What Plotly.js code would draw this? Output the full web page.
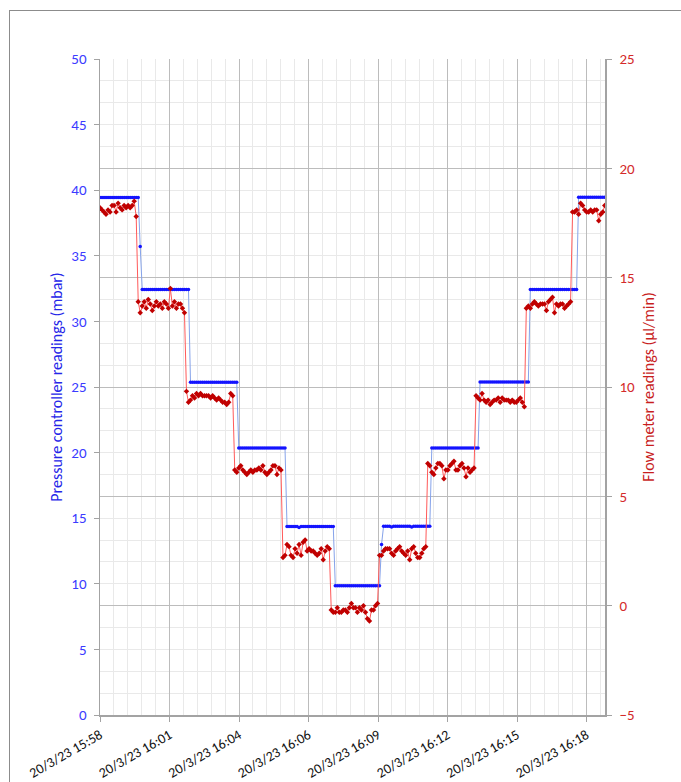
<!DOCTYPE html>
<html><head><meta charset="utf-8">
<script src="https://cdn.plot.ly/plotly-3.0.1.min.js"></script>
<style>
html,body{margin:0;padding:0;background:#fff;overflow:hidden;width:681px;height:782px}
#chart{position:absolute;left:0;top:0;width:681px;height:782px}
#frame{position:absolute;left:9px;top:10px;width:720px;height:820px;border:1px solid #8c8c8c;pointer-events:none;z-index:5}
</style></head>
<body><div id="chart"></div><div id="frame"></div>
<script>
// ---- data ----
var sampleStart = '2023-03-20 15:57:46';   // first sample time
var samplePeriodSec = 5;                     // seconds between samples

// Pressure controller readings (mbar), left axis
var pressure = [
 39.45,39.45,39.45,39.45,39.45,39.45,39.45,39.45,39.45,39.45,
 39.45,39.45,39.45,39.45,39.45,39.45,39.45,39.45,39.45,39.45,
 35.7,
 32.44,32.44,32.44,32.44,32.44,32.44,32.44,32.44,32.44,32.44,
 32.44,32.44,32.44,32.44,32.44,32.44,32.44,32.44,32.44,32.44,
 32.44,32.44,32.44,32.44,
 25.37,25.37,25.37,25.37,25.37,25.37,25.37,25.37,25.37,25.37,
 25.37,25.37,25.37,25.37,25.37,25.37,25.37,25.37,25.37,25.37,
 25.37,25.37,25.37,25.37,
 20.36,20.36,20.36,20.36,20.36,20.36,20.36,20.36,20.36,20.36,
 20.36,20.36,20.36,20.36,20.36,20.36,20.36,20.36,20.36,20.36,
 20.36,20.36,20.36,20.36,
 14.36,14.36,14.36,14.36,14.36,14.36,14.30,14.36,14.36,14.36,
 14.36,14.36,14.36,14.36,14.36,14.36,14.36,14.36,14.36,14.36,
 14.36,14.36,14.36,14.36,
 9.86,9.86,9.86,9.86,9.86,9.86,9.86,9.86,9.86,9.86,
 9.86,9.86,9.86,9.86,9.86,9.86,9.86,9.86,9.86,9.86,
 9.86,9.86,9.86,
 13.0,
 14.38,14.38,14.38,14.38,14.32,14.38,14.38,14.38,14.38,14.38,
 14.38,14.38,14.38,14.38,14.32,14.38,14.38,14.38,14.38,14.38,
 14.38,14.38,14.38,14.38,
 20.36,20.36,20.36,20.36,20.36,20.36,20.36,20.36,20.36,20.36,
 20.36,20.36,20.36,20.36,20.36,20.36,20.36,20.36,20.36,20.36,
 20.36,20.36,20.36,20.36,
 25.38,25.38,25.38,25.38,25.38,25.38,25.38,25.38,25.38,25.38,
 25.38,25.38,25.38,25.38,25.38,25.38,25.38,25.38,25.38,25.38,
 25.38,25.38,25.38,25.38,25.38,
 32.44,32.44,32.44,32.44,32.44,32.44,32.44,32.44,32.44,32.44,
 32.44,32.44,32.44,32.44,32.44,32.44,32.44,32.44,32.44,32.44,
 32.44,32.44,32.44,32.44,
 39.46,39.46,39.46,39.46,39.46,39.46,39.46,39.46,39.46,39.46,
 39.46,39.46,39.46,39.46
];

// Flow meter readings (µl/min), right axis
var flow = [
 18.2,18.1,18.0,17.9,18.1,18.0,18.3,18.3,18.0,18.4,18.2,18.1,18.3,18.2,18.3,18.2,18.3,18.5,17.8,
 13.9,13.4,13.7,13.9,13.6,14.0,13.8,13.5,13.7,13.9,13.7,13.8,13.6,13.9,13.8,13.6,14.5,13.7,13.9,13.6,13.8,13.8,13.6,13.4,
 9.8,9.3,9.4,9.6,9.5,9.7,9.6,9.7,9.6,9.6,9.6,9.6,9.5,9.6,9.5,9.4,9.5,9.4,9.3,9.3,9.2,9.3,9.7,9.6,
 6.2,6.1,6.3,6.4,6.2,6.1,6.0,6.1,6.2,6.1,6.2,6.2,6.3,6.2,6.4,6.1,6.0,6.1,6.2,6.4,6.4,6.0,6.3,6.2,
 2.2,2.3,2.8,2.7,2.3,2.2,2.6,2.4,2.8,2.3,2.9,3.0,2.5,2.6,2.5,2.5,2.4,2.3,2.4,2.6,2.1,2.5,2.7,2.6,
 -0.2,-0.3,-0.3,-0.1,-0.3,-0.3,-0.2,-0.2,-0.3,-0.1,0.1,-0.1,-0.1,-0.3,-0.1,-0.2,0.0,-0.3,-0.6,-0.7,-0.2,-0.2,0.0,0.1,
 2.3,2.3,2.5,2.6,2.6,2.6,2.4,2.3,2.5,2.6,2.7,2.5,2.4,2.3,2.5,2.1,2.6,2.7,2.4,2.2,2.2,2.4,2.6,2.7,
 6.5,6.4,6.1,6.0,6.3,6.5,6.5,6.4,5.8,6.2,6.2,6.4,6.5,6.6,6.2,6.2,6.4,6.5,6.3,5.9,6.3,6.1,6.2,6.3,
 9.6,9.5,9.4,9.7,9.4,9.3,9.4,9.2,9.3,9.4,9.4,9.5,9.3,9.5,9.4,9.4,9.4,9.3,9.4,9.3,9.3,9.4,9.5,9.3,9.1,
 13.6,13.7,13.6,13.8,13.9,13.8,13.7,13.8,13.8,13.8,13.5,13.9,14.0,14.1,13.4,13.8,13.7,13.8,13.8,13.6,13.7,13.8,13.9,
 18.0,18.0,18.1,17.9,18.4,18.3,18.1,18.0,18.0,18.1,18.0,18.1,18.1,17.6,17.9,18.0,18.3
];

var xRange = ['2023-03-20 15:57:46', '2023-03-20 16:18:41.6'];
var tickTimes = ['2023-03-20 15:57:46','2023-03-20 16:00:38.8','2023-03-20 16:03:31.6','2023-03-20 16:06:24.4',
                 '2023-03-20 16:09:17.2','2023-03-20 16:12:10','2023-03-20 16:15:02.8','2023-03-20 16:17:55.6'];
var tickLabels = ['20/3/23 15:58','20/3/23 16:01','20/3/23 16:04','20/3/23 16:06',
                  '20/3/23 16:09','20/3/23 16:12','20/3/23 16:15','20/3/23 16:18'];

// ---- sample timestamps ----
function pad(n){return (n<10?'0':'')+n;}
function stamp(base, offsetSec){
  var parts = base.split(' ');
  var hms = parts[1].split(':');
  var s = (+hms[0])*3600 + (+hms[1])*60 + (+hms[2]) + offsetSec;
  var h = Math.floor(s/3600), m = Math.floor((s%3600)/60), sec = s - h*3600 - m*60;
  var secStr = (sec<10?'0':'') + (Math.round(sec*1000)/1000);
  return parts[0]+' '+pad(h)+':'+pad(m)+':'+secStr;
}
function times(n){var out=[];for(var i=0;i<n;i++){out.push(stamp(sampleStart,i*samplePeriodSec));}return out;}

var FONT = 'Carlito, Lato, "Liberation Sans", sans-serif';
var AX = '#a3a3a3', GRID = '#bcbcbc', MINOR = '#e9e9e9';

var traces = [
  {x: times(pressure.length), y: pressure, type:'scatter', mode:'lines+markers', yaxis:'y',
   line:{color:'#86a3ea', width:1}, marker:{symbol:'circle', size:3.5, color:'#1414ff', line:{width:0}},
   hoverinfo:'x+y'},
  {x: times(flow.length), y: flow, type:'scatter', mode:'lines+markers', yaxis:'y2',
   line:{color:'#ff5a5a', width:1}, marker:{symbol:'diamond', size:4.2, color:'#c00000', line:{width:0}},
   hoverinfo:'x+y'}
];

var layout = {
  width:681, height:782,
  margin:{l:100, r:76, t:59, b:67, pad:0},
  paper_bgcolor:'rgba(0,0,0,0)', plot_bgcolor:'#ffffff',
  showlegend:false,
  font:{family:FONT, size:12, color:'#000'},
  xaxis:{
    type:'date', range:xRange, tickmode:'array', tickvals:tickTimes, ticktext:tickLabels, tickangle:-30,
    showgrid:true, gridcolor:GRID, gridwidth:1,
    minor:{tick0:sampleStart, dtick:34560, showgrid:true, gridcolor:MINOR, gridwidth:1, ticks:''},
    showline:true, linecolor:AX, linewidth:1.5, ticks:'outside', ticklen:5, tickcolor:AX, tickwidth:1,
    tickfont:{family:FONT, size:14, color:'#111'}, zeroline:false, automargin:false
  },
  yaxis:{
    range:[0,50], dtick:5, tick0:0, showgrid:false, zeroline:false,
    showline:true, linecolor:AX, linewidth:1.5, ticks:'outside', ticklen:5, tickcolor:AX, tickwidth:1,
    tickfont:{family:FONT, size:15, color:'#3b3bff'}, ticklabelstandoff:4,
    title:{text:'Pressure controller readings (mbar)', standoff:4, font:{family:FONT, size:16, color:'#2525e8'}},
    automargin:false
  },
  yaxis2:{
    overlaying:'y', side:'right', range:[-5,25], dtick:5, tick0:0,
    showgrid:true, gridcolor:GRID, gridwidth:1,
    minor:{dtick:1, showgrid:true, gridcolor:MINOR, gridwidth:1, ticks:''},
    zeroline:false, showline:true, linecolor:AX, linewidth:1.5, ticks:'outside', ticklen:5, tickcolor:AX, tickwidth:1,
    tickfont:{family:FONT, size:15, color:'#d42b2b'}, ticklabelstandoff:5,
    title:{text:'Flow meter readings (µl/min)', standoff:8, font:{family:FONT, size:16, color:'#c81e1e'}},
    automargin:false
  }
};

Plotly.newPlot('chart', traces, layout, {staticPlot:true, displayModeBar:false});
</script>
</body></html>
